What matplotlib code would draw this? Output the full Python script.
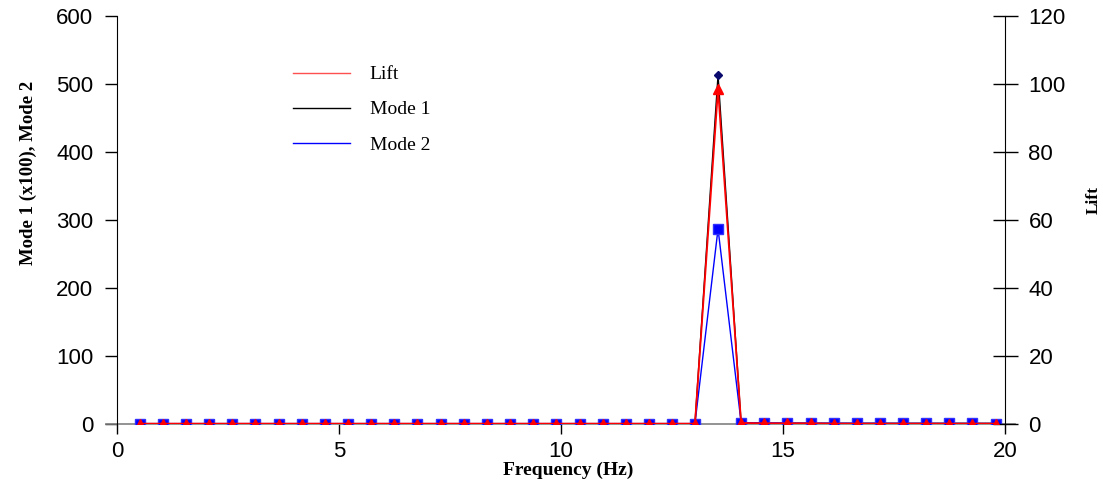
import matplotlib.pyplot as plt
from matplotlib.lines import Line2D

# Spectre : fréquences (Hz) et amplitudes
freq = [0.52, 1.04, 1.56, 2.08, 2.60, 3.12, 3.65, 4.17, 4.69, 5.21,
        5.73, 6.25, 6.77, 7.29, 7.81, 8.33, 8.85, 9.38, 9.90, 10.42,
        10.94, 11.46, 11.98, 12.50, 13.02, 13.54, 14.06, 14.58, 15.10, 15.63,
        16.15, 16.67, 17.19, 17.71, 18.23, 18.75, 19.27, 19.79]
mode1 = [0.5] * 25 + [513.0] + [1.0] * 12
mode2 = [0.6] * 25 + [287.0] + [2.0, 1.6, 1.4, 1.2, 1.1, 1.0, 1.0, 0.9, 0.9, 0.8, 0.8, 0.7]
lift = [0.1] * 25 + [98.5] + [0.3, 0.2, 0.2, 0.2, 0.1, 0.1, 0.1, 0.1, 0.1, 0.1, 0.1, 0.1]

serif = 'Liberation Serif'
sans = 'Liberation Sans'

fig = plt.figure(figsize=(11.03, 4.95), dpi=100)
ax = fig.add_axes([0.106, 0.1434, 0.805, 0.8243])
ax2 = ax.twinx()

ax.plot(freq, mode1, color='black', lw=1.0, marker='D', ms=4.5,
        mfc='#0a0a6e', mec='#0a0a6e', zorder=3)
ax.plot(freq, mode2, color='#0000ff', lw=1.0, marker='s', ms=6.5,
        mfc='#0000ff', mec='#3030ff', zorder=4)
ax2.plot(freq, lift, color='#ff0000', lw=1.3, marker='^', ms=7.5,
         mfc='#ff0000', mec='#ff0000', zorder=5)

# ligne de base grise à y = 0
ax.plot([-0.012, 1.012], [0, 0], color='#808080', lw=1.2,
        transform=ax.get_yaxis_transform(), clip_on=False, zorder=2)

ax.set_xlim(0, 20)
ax.set_ylim(0, 600)
ax2.set_ylim(0, 120)
ax.set_xticks([0, 5, 10, 15, 20])
ax.set_yticks(range(0, 601, 100))
ax2.set_yticks(range(0, 121, 20))

for a in (ax, ax2):
    a.spines['top'].set_visible(False)
    a.spines['bottom'].set_visible(False)
ax.spines['right'].set_visible(False)
ax2.spines['left'].set_visible(False)

ax.tick_params(axis='x', direction='out', length=7, width=1, pad=5,
               labelsize=16)
ax.tick_params(axis='y', direction='out', length=9, width=1, pad=8,
               labelsize=16)
ax2.tick_params(axis='y', direction='inout', length=18, width=1, pad=8,
                labelsize=16)
for lab in ax.get_xticklabels() + ax.get_yticklabels() + ax2.get_yticklabels():
    lab.set_fontfamily(sans)

ax.set_xlabel('Frequency (Hz)', fontfamily=serif, fontweight='bold',
              fontsize=14)
ax.xaxis.set_label_coords(0.508, -0.093)
ax.set_ylabel('Mode 1 (x100), Mode 2', fontfamily=serif, fontweight='bold',
              fontsize=13.5)
ax.yaxis.set_label_coords(-0.090, 0.615)

# titre de l'axe droit
fig.text(1094 / 1103, 1 - 200 / 495, 'Lift', rotation=90, ha='center',
         va='center', fontfamily=serif, fontweight='bold', fontsize=12.5)

handles = [Line2D([], [], color='#ff5050', lw=1.0),
           Line2D([], [], color='black', lw=1.0),
           Line2D([], [], color='#0000ff', lw=1.0)]
ax2.legend(handles, ['Lift', 'Mode 1', 'Mode 2'], loc='upper left',
           bbox_to_anchor=(0.198, 0.878), frameon=False, borderpad=0,
           borderaxespad=0, handlelength=2.93, handletextpad=1.03,
           labelspacing=0.9, prop={'family': serif, 'size': 14})

fig.savefig('out.png', dpi=100)
